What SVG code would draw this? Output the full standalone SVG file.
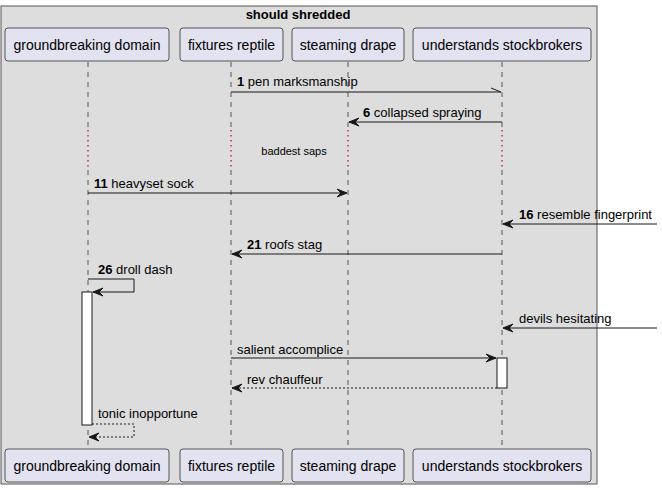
<svg xmlns="http://www.w3.org/2000/svg" width="662" height="490" viewBox="0 0 662 490">
<style>
text{font-family:"Liberation Sans",Arial,sans-serif;fill:#000}
.p rect{fill:#E2E2F0;stroke:#555;stroke-width:1}
.p text{font-size:14px;text-anchor:middle}
.ll{stroke:#555;stroke-width:1;stroke-dasharray:5,5}
.dl{stroke:#C0003A;stroke-width:1.2;stroke-dasharray:1.5,3.5}
.m{stroke:#181818;stroke-width:1;fill:none}
.d{stroke:#181818;stroke-width:1;fill:none;stroke-dasharray:2,2}
.lb{font-size:13px}
.b{font-weight:bold}
.act{fill:#fff;stroke:#181818;stroke-width:1}
.ah{fill:#181818;stroke:#181818;stroke-width:1}
</style>
<rect x="1" y="6" width="596" height="478" fill="#DDDDDD" stroke="#555" stroke-width="1"/>
<text x="298" y="19" font-size="13" font-weight="bold" text-anchor="middle">should shredded</text>

<g id="lifelines">
<line class="ll" x1="88" y1="62" x2="88" y2="130"/><line class="dl" x1="88" y1="130" x2="88" y2="170"/><line class="ll" x1="88" y1="170" x2="88" y2="449"/>
<line class="ll" x1="231" y1="62" x2="231" y2="130"/><line class="dl" x1="231" y1="130" x2="231" y2="170"/><line class="ll" x1="231" y1="170" x2="231" y2="449"/>
<line class="ll" x1="348" y1="62" x2="348" y2="130"/><line class="dl" x1="348" y1="130" x2="348" y2="170"/><line class="ll" x1="348" y1="170" x2="348" y2="449"/>
<line class="ll" x1="502" y1="62" x2="502" y2="130"/><line class="dl" x1="502" y1="130" x2="502" y2="170"/><line class="ll" x1="502" y1="170" x2="502" y2="449"/>
</g>

<g id="p1" class="p"><rect x="5" y="28" width="164" height="33" rx="3"/><text x="87" y="50">groundbreaking domain</text><rect x="5" y="449" width="164" height="33" rx="3"/><text x="87" y="471">groundbreaking domain</text></g>
<g id="p2" class="p"><rect x="180" y="28" width="103" height="33" rx="3"/><text x="231.5" y="50">fixtures reptile</text><rect x="180" y="449" width="103" height="33" rx="3"/><text x="231.5" y="471">fixtures reptile</text></g>
<g id="p3" class="p"><rect x="292" y="28" width="112" height="33" rx="3"/><text x="348" y="50">steaming drape</text><rect x="292" y="449" width="112" height="33" rx="3"/><text x="348" y="471">steaming drape</text></g>
<g id="p4" class="p"><rect x="413" y="28" width="178" height="33" rx="3"/><text x="502" y="50">understands stockbrokers</text><rect x="413" y="449" width="178" height="33" rx="3"/><text x="502" y="471">understands stockbrokers</text></g>

<g id="activations">
<rect class="act" x="82" y="292" width="10" height="133"/>
<rect class="act" x="497" y="358" width="10" height="30"/>
</g>

<g id="connectors">
<line class="m" x1="231" y1="92" x2="501" y2="92"/><line class="m" x1="491" y1="88" x2="501" y2="92"/>
<text class="lb" x="237" y="86"><tspan class="b">1</tspan> pen marksmanship</text>

<line class="m" x1="502" y1="122" x2="349" y2="122"/><polygon class="ah" points="349,122 359,118 355,122 359,126"/>
<text class="lb" x="363" y="117"><tspan class="b">6</tspan> collapsed spraying</text>

<text x="294" y="155" font-size="11" text-anchor="middle">baddest saps</text>

<line class="m" x1="88" y1="193" x2="347" y2="193"/><polygon class="ah" points="347,193 337,189 341,193 337,197"/>
<text class="lb" x="94" y="188"><tspan class="b">11</tspan> heavyset sock</text>

<line class="m" x1="657" y1="224" x2="503" y2="224"/><polygon class="ah" points="503,224 513,220 509,224 513,228"/>
<text class="lb" x="519" y="219"><tspan class="b">16</tspan> resemble fingerprint</text>

<line class="m" x1="502" y1="254" x2="232" y2="254"/><polygon class="ah" points="232,254 242,250 238,254 242,258"/>
<text class="lb" x="247" y="249"><tspan class="b">21</tspan> roofs stag</text>

<polyline class="m" points="88,279 134,279 134,292 93,292"/><polygon class="ah" points="93,292 103,288 99,292 103,296"/>
<text class="lb" x="98" y="274"><tspan class="b">26</tspan> droll dash</text>

<line class="m" x1="657" y1="328" x2="503" y2="328"/><polygon class="ah" points="503,328 513,324 509,328 513,332"/>
<text class="lb" x="519" y="323">devils hesitating</text>

<line class="m" x1="231" y1="358" x2="496" y2="358"/><polygon class="ah" points="496,358 486,354 490,358 486,362"/>
<text class="lb" x="237" y="354">salient accomplice</text>

<line class="d" x1="497" y1="388" x2="232" y2="388"/><polygon class="ah" points="232,388 242,384 238,388 242,392"/>
<text class="lb" x="247" y="384">rev chauffeur</text>

<polyline class="d" points="92,424 134,424 134,437 89,437"/><polygon class="ah" points="89,437 99,433 95,437 99,441"/>
<text class="lb" x="98" y="418">tonic inopportune</text>
</g>
</svg>
